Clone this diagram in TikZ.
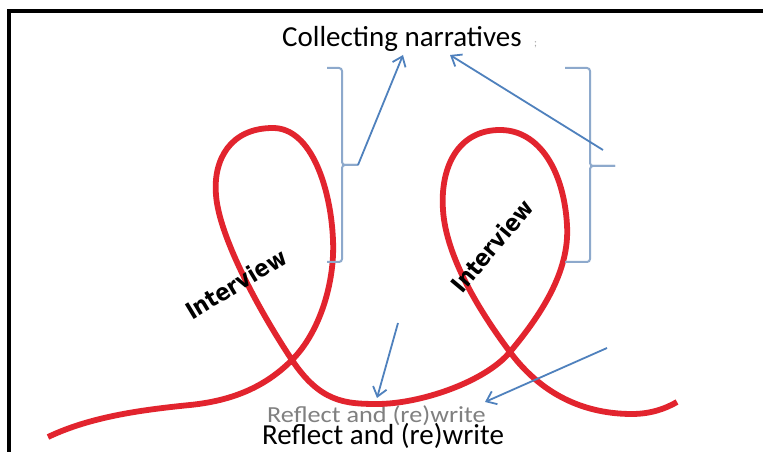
\documentclass[tikz,border=0pt]{standalone}
\usepackage{fontspec}
\setmainfont{Carlito}
\newfontfamily\labelfont{DejaVu Sans Condensed}
\usetikzlibrary{arrows.meta}
\definecolor{ribbon}{RGB}{226,36,46}
\definecolor{arrowblue}{RGB}{79,129,189}
\definecolor{braceblue}{RGB}{141,169,204}
\begin{document}
\begin{tikzpicture}[x=1pt,y=1pt,
  ribbonline/.style={draw=ribbon, line width=5.8pt},
  pointer/.style={draw=arrowblue, line width=1.8pt, -{Straight Barb[length=9pt,width=14pt]}},
  bracket/.style={draw=braceblue, line width=2pt, rounded corners=3pt},
  caption/.style={inner sep=0pt, anchor=base west, font=\fontsize{29}{34}\selectfont},
  loopname/.style={inner sep=0pt, font=\labelfont\bfseries\fontsize{23.5}{27}\selectfont},
  frameline/.style={draw=black, line width=4pt}]
\useasboundingbox (0,0) rectangle (763,452);
\fill[white] (0,0) rectangle (763,452);

% open frame: left and top edges
\draw[frameline] (9,-10) -- (9,441) -- (775,441);

% captions
\node[caption] (collect) at (282,405) {Collecting narratives};
\node[caption, font=\fontsize{11}{13}\selectfont, text=black!35] (mark) at (534,405) {;};
\node[caption, font=\fontsize{23}{27}\selectfont, text=black!50] (reflectgrey) at (267,29) {\scalebox{1.14}[1]{Reflect and (re)write}};
\node[caption] (reflect) at (262,7) {Reflect and (re)write};

% the ribbon with its two loops
\draw[ribbonline] (48,15)
  .. controls (90,35) and (140,42) .. (190,47)
  .. controls (240,52) and (270,70) .. (292,92)
  .. controls (320,120) and (335,170) .. (333,212)
  .. controls (331,262) and (312,324) .. (273,324)
  .. controls (230,324) and (213,292) .. (216,257)
  .. controls (219,215) and (260,140) .. (292,92)
  .. controls (320,50) and (345,48) .. (377,48)
  .. controls (420,48) and (485,70) .. (510,100)
  .. controls (540,136) and (570,180) .. (567,227)
  .. controls (564,280) and (540,322) .. (500,322)
  .. controls (458,322) and (440,285) .. (443,242)
  .. controls (446,195) and (480,140) .. (510,100)
  .. controls (545,53) and (590,38) .. (632,38)
  .. controls (650,38) and (665,43) .. (677,50);

% loop labels
\node[loopname, rotate=31] (iv1) at (236,168) {Interview};
\node[loopname, rotate=50] (iv2) at (492,206) {Interview};

% braces beside each loop
\coordinate (tipA) at (358,287);
\coordinate (tipB) at (615,286);
\draw[bracket] (327,384) -- (342,384) -- (342,287) -- (tipA);
\draw[bracket] (327,190) -- (342,190) -- (342,287) -- (tipA);
\draw[bracket] (565,384) -- (590,384) -- (590,286) -- (tipB);
\draw[bracket] (565,190) -- (590,190) -- (590,286) -- (tipB);

% arrow end points
\coordinate (collectA) at (403,397);
\coordinate (collectB) at (450,397);
\coordinate (fromB) at (603,302);
\coordinate (downA) at (398,129);
\coordinate (reflectA) at (377,54);
\coordinate (downB) at (607,104);
\coordinate (reflectB) at (485,50);

\draw[pointer] (tipA) -- (collectA);
\draw[pointer] (fromB) -- (collectB);
\draw[pointer] (downA) -- (reflectA);
\draw[pointer] (downB) -- (reflectB);
\end{tikzpicture}
\end{document}
